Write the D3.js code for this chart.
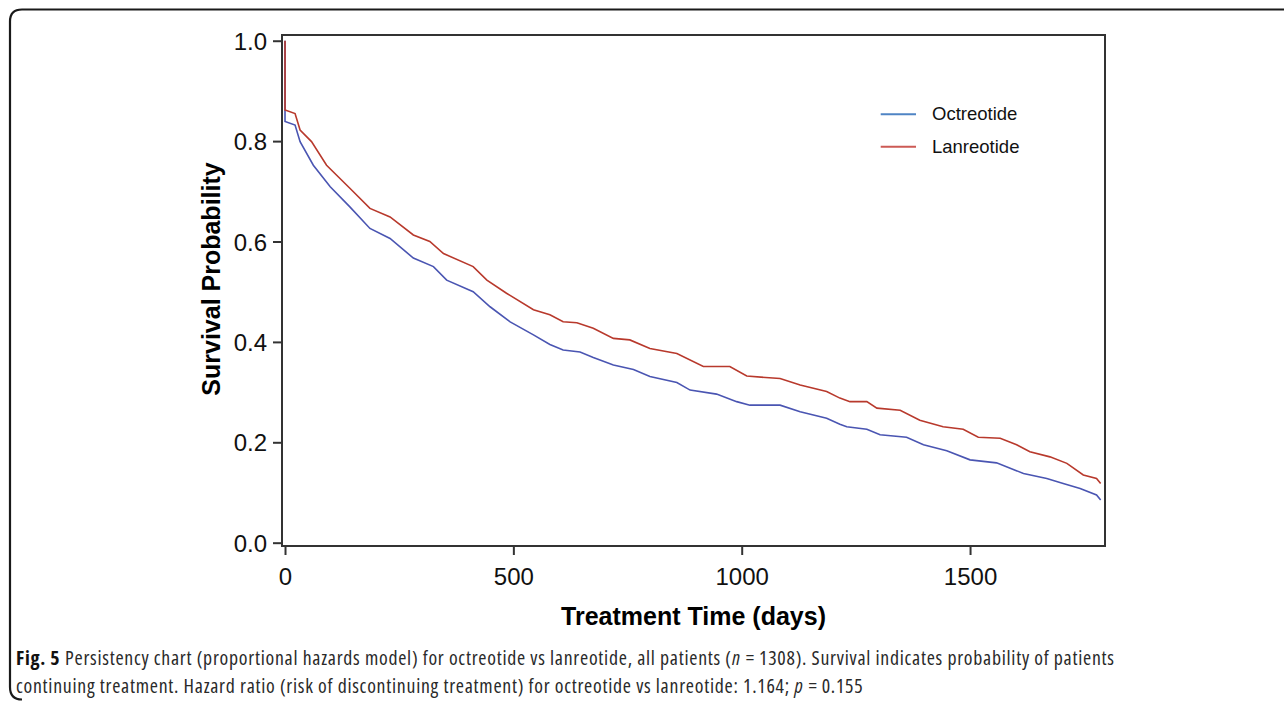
<!DOCTYPE html>
<html><head><meta charset="utf-8">
<script src="https://cdn.jsdelivr.net/npm/d3@7"></script>
<style>body{margin:0;background:#fff}svg{display:block}</style>
</head><body>
<svg id="c" width="1284" height="701"></svg>
<script>
// ---- data ----
const octDays = [0,1,22,33,62,99,142,186,230,281,325,354,412,449,493,544,580,609,646,675,719,763,799,858,887,945,989,1018,1084,1128,1186,1215,1230,1274,1303,1361,1398,1449,1500,1558,1617,1668,1704,1741,1777,1786];
const octSurv = [1.0,0.839,0.832,0.799,0.752,0.709,0.669,0.626,0.606,0.567,0.550,0.523,0.500,0.470,0.440,0.414,0.395,0.384,0.380,0.369,0.354,0.345,0.331,0.319,0.304,0.296,0.281,0.274,0.274,0.261,0.248,0.236,0.231,0.226,0.215,0.210,0.195,0.183,0.165,0.159,0.138,0.128,0.118,0.108,0.095,0.085];
const lanDays = [0,1,22,33,58,91,142,186,230,281,317,347,412,442,485,544,580,609,639,675,719,755,799,858,916,974,1011,1084,1128,1186,1215,1237,1274,1296,1347,1390,1441,1485,1518,1566,1602,1631,1675,1712,1748,1777,1786];
const lanSurv = [1.0,0.862,0.855,0.822,0.799,0.752,0.706,0.666,0.649,0.613,0.600,0.576,0.550,0.523,0.497,0.464,0.454,0.440,0.438,0.427,0.407,0.404,0.387,0.377,0.351,0.351,0.332,0.327,0.314,0.301,0.288,0.281,0.281,0.268,0.264,0.244,0.231,0.226,0.210,0.208,0.195,0.181,0.171,0.158,0.135,0.128,0.118];
const seriesNames = ["Octreotide","Lanreotide"];
const xTicks = [0,500,1000,1500];
const yTicks = [0.0,0.2,0.4,0.6,0.8,1.0];
const xTitle = "Treatment Time (days)";
const yTitle = "Survival Probability";
const captionLine1 = [
  {t:"Fig. 5", w:"bold"},
  {t:" Persistency chart (proportional hazards model) for octreotide vs lanreotide, all patients ("},
  {t:"n", i:true},
  {t:"\u2009=\u20091308). Survival indicates probability of patients"}
];
const captionLine2 = [
  {t:"continuing treatment. Hazard ratio (risk of discontinuing treatment) for octreotide vs lanreotide: 1.164; "},
  {t:"p", i:true},
  {t:"\u2009=\u20090.155"}
];

const svg = d3.select("#c");
const sans = "'Liberation Sans', Arial, Helvetica, sans-serif";

// outer figure frame (top-left rounded)
svg.append("path")
  .attr("d","M1284,9.5 L22,9.5 Q10,9.5 10,21.5 L10,687 Q10,699.5 22,699.5")
  .attr("fill","none").attr("stroke","#1a1a1a").attr("stroke-width",2.2);

const L=282, R=1105, T=35, B=546;
const x = d3.scaleLinear().domain([-6.6,1795.5]).range([L,R]);
const y = d3.scaleLinear().domain([-0.0066,1.0114]).range([B,T]);

// curves: vertical drop at day 0, then the read-off path
const line = d3.line().x(d=>x(d[0])).y(d=>y(d[1]));
const oct = octDays.map((d,i)=>[d,octSurv[i]]);
const lan = lanDays.map((d,i)=>[d,lanSurv[i]]);
oct[1][0]=0; lan[1][0]=0;
svg.append("path").datum(oct).attr("d",line).attr("fill","none")
  .attr("stroke","#4a55b2").attr("stroke-width",1.6).attr("stroke-linejoin","miter");
svg.append("path").datum(lan).attr("d",line).attr("fill","none")
  .attr("stroke","#b8392c").attr("stroke-width",1.6).attr("stroke-linejoin","miter");

// frame
svg.append("rect").attr("x",L).attr("y",T).attr("width",R-L).attr("height",B-T)
  .attr("fill","none").attr("stroke","#333").attr("stroke-width",2);

// y axis
const gy = svg.append("g").attr("transform",`translate(${L-1},0)`)
  .call(d3.axisLeft(y).tickValues(yTicks).tickFormat(d3.format(".1f")).tickSize(8).tickPadding(6));
gy.select(".domain").remove();
gy.selectAll(".tick line").attr("stroke","#333").attr("stroke-width",2);
gy.selectAll(".tick text").attr("font-family",sans).attr("font-size",24).attr("fill","#111").attr("dy","0.36em");

// x axis
const gx = svg.append("g").attr("transform",`translate(0,${B+1})`)
  .call(d3.axisBottom(x).tickValues(xTicks).tickFormat(d3.format("d")).tickSize(8).tickPadding(13));
gx.select(".domain").remove();
gx.selectAll(".tick line").attr("stroke","#333").attr("stroke-width",2);
gx.selectAll(".tick text").attr("font-family",sans).attr("font-size",24).attr("fill","#111");

// axis titles
svg.append("text").attr("transform",`translate(220,279) rotate(-90)`)
  .attr("text-anchor","middle").attr("font-family",sans).attr("font-weight","bold")
  .attr("font-size",25).attr("fill","#000").text(yTitle);
svg.append("text").attr("x",(L+R)/2).attr("y",625)
  .attr("text-anchor","middle").attr("font-family",sans).attr("font-weight","bold")
  .attr("font-size",25).attr("fill","#000").text(xTitle);

// legend
const legColors = ["#4f84c4","#cc5a55"];
const lg = svg.append("g");
seriesNames.forEach((n,i)=>{
  const yy = 114.3 + i*32.4;
  lg.append("line").attr("x1",880.7).attr("x2",916).attr("y1",yy).attr("y2",yy)
    .attr("stroke",legColors[i]).attr("stroke-width",2);
  lg.append("text").attr("x",932).attr("y",yy+6).attr("font-family",sans)
    .attr("font-size",18.5).attr("fill","#111").text(n);
});

// caption: runs laid out one after another; letter spacing widens line 1 to ~1099 px
const capFont = "'Open Sans','Noto Sans',sans-serif";
const cap = svg.append("g").attr("font-family",capFont).attr("fill","#2a2a2a")
  .style("font-stretch","75%");
const capSize = 19.8;
function drawLine(runs, yy, ls){
  let xx = 16;
  const nodes = [];
  runs.forEach(r=>{
    const t = cap.append("text").attr("x",xx).attr("y",yy).attr("font-size",capSize)
      .attr("letter-spacing",ls)
      .attr("xml:space","preserve").style("white-space","pre").text(r.t);
    if (r.w) t.attr("font-weight",r.w).attr("fill","#111");
    if (r.i) t.attr("font-style","italic");
    xx += t.node().getComputedTextLength() + (r.i ? 1 : 0.3);
    nodes.push(t);
  });
  return {w: xx-16, nodes};
}
const probe = drawLine(captionLine1, -100, 0);
probe.nodes.forEach(n=>n.remove());
const nChars = captionLine1.reduce((s,r)=>s+r.t.length,0);
const ls = Math.max(0, (1099 - probe.w)/nChars);
drawLine(captionLine1, 665, ls);
drawLine(captionLine2, 693, ls);
</script>
</body></html>
